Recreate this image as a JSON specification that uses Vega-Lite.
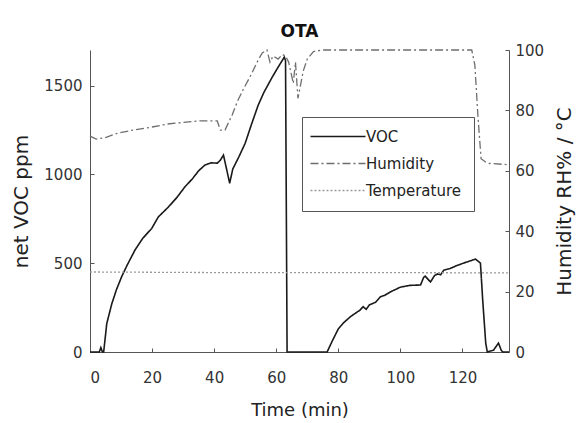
{
  "$schema": "https://vega.github.io/schema/vega-lite/v6.json",
  "width": 419,
  "height": 302,
  "autosize": {"type": "none"},
  "padding": {"left": 90, "top": 50, "right": 70, "bottom": 71},
  "background": "white",
  "title": {"text": "OTA", "font": "DejaVu Sans", "fontSize": 17, "fontWeight": "bold", "color": "#111", "offset": 2},
  "config": {
    "view": {"stroke": null},
    "axis": {
      "grid": false,
      "domainColor": "#555",
      "tickColor": "#555",
      "tickSize": -4,
      "labelFont": "DejaVu Sans",
      "labelFontSize": 15,
      "labelColor": "#333",
      "titleFont": "DejaVu Sans",
      "titleFontWeight": "normal",
      "titleColor": "#222"
    },
    "legend": {
      "orient": "none",
      "legendX": 212,
      "legendY": 67,
      "strokeColor": "#555",
      "fillColor": "white",
      "padding": 12,
      "rowPadding": 11,
      "symbolType": "M-2.2,0H8.8",
      "symbolSize": 100,
      "symbolStrokeWidth": 1.5,
      "labelFont": "DejaVu Sans",
      "labelFontSize": 15,
      "labelColor": "#222",
      "labelOffset": 37
    }
  },
  "data": {
    "values": [
      {"t": 0, "series": "VOC", "value": 0},
      {"t": 3, "series": "VOC", "value": 0},
      {"t": 3.5, "series": "VOC", "value": 25},
      {"t": 4, "series": "VOC", "value": 0},
      {"t": 4.4, "series": "VOC", "value": 0},
      {"t": 5.4, "series": "VOC", "value": 160},
      {"t": 7, "series": "VOC", "value": 270},
      {"t": 8.5, "series": "VOC", "value": 350},
      {"t": 10.2, "series": "VOC", "value": 424},
      {"t": 12, "series": "VOC", "value": 490},
      {"t": 14.5, "series": "VOC", "value": 574},
      {"t": 17, "series": "VOC", "value": 640},
      {"t": 19.9, "series": "VOC", "value": 696},
      {"t": 22, "series": "VOC", "value": 760},
      {"t": 25.2, "series": "VOC", "value": 815},
      {"t": 28, "series": "VOC", "value": 870},
      {"t": 30.6, "series": "VOC", "value": 930},
      {"t": 33, "series": "VOC", "value": 975},
      {"t": 35, "series": "VOC", "value": 1020},
      {"t": 37, "series": "VOC", "value": 1052},
      {"t": 39, "series": "VOC", "value": 1065},
      {"t": 41, "series": "VOC", "value": 1063},
      {"t": 42, "series": "VOC", "value": 1080},
      {"t": 43, "series": "VOC", "value": 1108},
      {"t": 44, "series": "VOC", "value": 1030},
      {"t": 45, "series": "VOC", "value": 950},
      {"t": 46, "series": "VOC", "value": 1030},
      {"t": 48, "series": "VOC", "value": 1100},
      {"t": 50, "series": "VOC", "value": 1175},
      {"t": 52, "series": "VOC", "value": 1280},
      {"t": 54.2, "series": "VOC", "value": 1390},
      {"t": 56, "series": "VOC", "value": 1460},
      {"t": 58.7, "series": "VOC", "value": 1547},
      {"t": 60.5, "series": "VOC", "value": 1600},
      {"t": 62.6, "series": "VOC", "value": 1660},
      {"t": 63, "series": "VOC", "value": 1640},
      {"t": 63.5, "series": "VOC", "value": 0},
      {"t": 76.4, "series": "VOC", "value": 0},
      {"t": 78, "series": "VOC", "value": 60},
      {"t": 80, "series": "VOC", "value": 130},
      {"t": 81.6, "series": "VOC", "value": 163},
      {"t": 84, "series": "VOC", "value": 200},
      {"t": 87, "series": "VOC", "value": 236},
      {"t": 88, "series": "VOC", "value": 255},
      {"t": 89, "series": "VOC", "value": 240},
      {"t": 90, "series": "VOC", "value": 265},
      {"t": 92, "series": "VOC", "value": 280},
      {"t": 93.5, "series": "VOC", "value": 310},
      {"t": 95, "series": "VOC", "value": 320},
      {"t": 97, "series": "VOC", "value": 340},
      {"t": 100, "series": "VOC", "value": 365},
      {"t": 103, "series": "VOC", "value": 375},
      {"t": 106.5, "series": "VOC", "value": 377},
      {"t": 107.5, "series": "VOC", "value": 420},
      {"t": 108, "series": "VOC", "value": 427},
      {"t": 109.7, "series": "VOC", "value": 394},
      {"t": 111, "series": "VOC", "value": 430},
      {"t": 112, "series": "VOC", "value": 440},
      {"t": 113, "series": "VOC", "value": 435},
      {"t": 114, "series": "VOC", "value": 461},
      {"t": 116, "series": "VOC", "value": 470},
      {"t": 118, "series": "VOC", "value": 485},
      {"t": 120.3, "series": "VOC", "value": 500},
      {"t": 122, "series": "VOC", "value": 510},
      {"t": 124.2, "series": "VOC", "value": 523},
      {"t": 125.8, "series": "VOC", "value": 500},
      {"t": 126.5, "series": "VOC", "value": 300},
      {"t": 127.5, "series": "VOC", "value": 50},
      {"t": 128, "series": "VOC", "value": 0},
      {"t": 130, "series": "VOC", "value": 10},
      {"t": 131.6, "series": "VOC", "value": 50},
      {"t": 132.5, "series": "VOC", "value": 10},
      {"t": 133, "series": "VOC", "value": 0},
      {"t": 135, "series": "VOC", "value": 0},

      {"t": 0, "series": "Humidity", "value": 71.5},
      {"t": 2, "series": "Humidity", "value": 70.5},
      {"t": 5, "series": "Humidity", "value": 71},
      {"t": 9, "series": "Humidity", "value": 72.5},
      {"t": 14, "series": "Humidity", "value": 73.5},
      {"t": 20, "series": "Humidity", "value": 74.5},
      {"t": 25, "series": "Humidity", "value": 75.5},
      {"t": 30, "series": "Humidity", "value": 76},
      {"t": 35, "series": "Humidity", "value": 76.5},
      {"t": 41, "series": "Humidity", "value": 76.5},
      {"t": 42, "series": "Humidity", "value": 73.5},
      {"t": 43.5, "series": "Humidity", "value": 73.5},
      {"t": 45.8, "series": "Humidity", "value": 78.5},
      {"t": 47.5, "series": "Humidity", "value": 83},
      {"t": 49.4, "series": "Humidity", "value": 87},
      {"t": 52, "series": "Humidity", "value": 92},
      {"t": 54.2, "series": "Humidity", "value": 96.7},
      {"t": 55.5, "series": "Humidity", "value": 99},
      {"t": 57, "series": "Humidity", "value": 100},
      {"t": 58, "series": "Humidity", "value": 96},
      {"t": 59, "series": "Humidity", "value": 98},
      {"t": 60.6, "series": "Humidity", "value": 97},
      {"t": 62, "series": "Humidity", "value": 98.5},
      {"t": 63, "series": "Humidity", "value": 98},
      {"t": 64, "series": "Humidity", "value": 96},
      {"t": 65.5, "series": "Humidity", "value": 89},
      {"t": 66.2, "series": "Humidity", "value": 96},
      {"t": 67, "series": "Humidity", "value": 84},
      {"t": 68.7, "series": "Humidity", "value": 93},
      {"t": 70, "series": "Humidity", "value": 97},
      {"t": 72, "series": "Humidity", "value": 99.5},
      {"t": 75, "series": "Humidity", "value": 100},
      {"t": 123, "series": "Humidity", "value": 100},
      {"t": 124, "series": "Humidity", "value": 95},
      {"t": 125, "series": "Humidity", "value": 78},
      {"t": 126, "series": "Humidity", "value": 64},
      {"t": 128, "series": "Humidity", "value": 62.5},
      {"t": 135, "series": "Humidity", "value": 62},

      {"t": 0, "series": "Temperature", "value": 26.5},
      {"t": 40, "series": "Temperature", "value": 26.3},
      {"t": 80, "series": "Temperature", "value": 26.3},
      {"t": 135, "series": "Temperature", "value": 26.2}
    ]
  },
  "encoding": {
    "x": {
      "field": "t",
      "type": "quantitative",
      "scale": {"domain": [0, 135], "nice": false, "zero": false},
      "axis": {"values": [0, 20, 40, 60, 80, 100, 120], "title": "Time (min)", "titleFontSize": 18, "labelPadding": 22, "titlePadding": 16}
    },
    "color": {
      "field": "series",
      "type": "nominal",
      "scale": {"domain": ["VOC", "Humidity", "Temperature"], "range": ["#1a1a1a", "#6e6e6e", "#9a9a9a"]},
      "legend": {"title": null}
    },
    "strokeDash": {
      "field": "series",
      "type": "nominal",
      "scale": {"domain": ["VOC", "Humidity", "Temperature"], "range": [[1, 0], [8, 3, 2, 3], [2, 2]]},
      "legend": {"title": null}
    }
  },
  "layer": [
    {
      "transform": [{"filter": "datum.series === 'VOC'"}],
      "mark": {"type": "line", "strokeWidth": 1.6},
      "encoding": {
        "y": {
          "field": "value",
          "type": "quantitative",
          "scale": {"domain": [0, 1700], "nice": false},
          "axis": {"orient": "left", "values": [0, 500, 1000, 1500], "format": "d", "title": "net VOC ppm", "titleFontSize": 20, "labelPadding": 12, "titlePadding": 12}
        }
      }
    },
    {
      "transform": [{"filter": "datum.series !== 'VOC'"}],
      "mark": {"type": "line", "strokeWidth": 1.3},
      "encoding": {
        "y": {
          "field": "value",
          "type": "quantitative",
          "scale": {"domain": [0, 100], "nice": false},
          "axis": {"orient": "right", "values": [0, 20, 40, 60, 80, 100], "title": "Humidity RH% / °C", "titleFontSize": 20, "titleAngle": 270, "titleBaseline": "top", "labelPadding": 10, "titlePadding": 11}
        }
      }
    }
  ],
  "resolve": {"scale": {"y": "independent"}}
}
